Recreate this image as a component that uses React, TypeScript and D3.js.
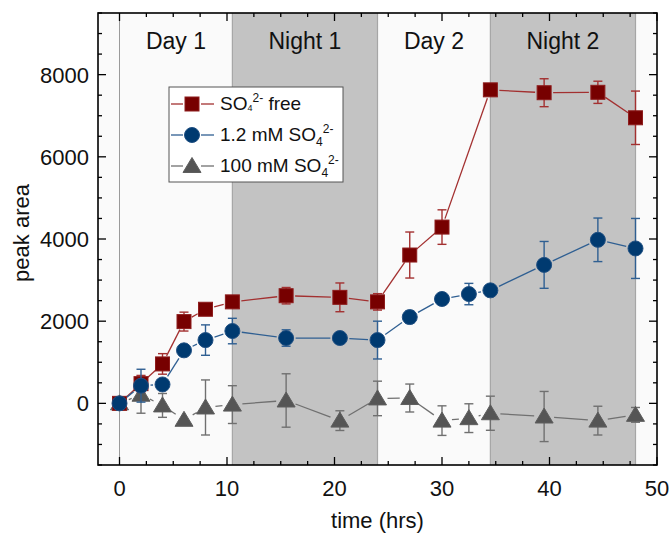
import React, { useRef, useEffect } from 'react';
import * as d3 from 'd3';

// time points (hrs)
const freeTime = [0, 2, 4, 6, 8, 10.5, 15.5, 20.5, 24, 27, 30, 34.5, 39.5, 44.5, 48];
const freeVal = [0, 480, 960, 1990, 2290, 2470, 2620, 2580, 2470, 3610, 4290, 7630, 7560, 7570, 6950];
const freeErr = [0, 200, 250, 230, 80, 80, 200, 350, 200, 560, 420, 0, 340, 270, 650];

const sulfTime = [0, 2, 4, 6, 8, 10.5, 15.5, 20.5, 24, 27, 30, 32.5, 34.5, 39.5, 44.5, 48];
const lowVal = [0, 430, 460, 1290, 1540, 1760, 1590, 1590, 1540, 2100, 2540, 2660, 2750, 3370, 3980, 3770];
const lowErr = [0, 400, 100, 100, 370, 310, 200, 80, 460, 150, 100, 260, 80, 570, 530, 730];
const highVal = [0, 210, -50, -400, -100, -30, 70, -420, 120, 130, -420, -360, -240, -320, -420, -280];
const highErr = [0, 450, 290, 0, 670, 460, 650, 240, 420, 340, 360, 350, 415, 610, 350, 180];

// light periods
const periods = [
  { label: 'Day 1', from: 0, to: 10.5, dark: false },
  { label: 'Night 1', from: 10.5, to: 24, dark: true },
  { label: 'Day 2', from: 24, to: 34.5, dark: false },
  { label: 'Night 2', from: 34.5, to: 48, dark: true },
];

const xTicks = [0, 10, 20, 30, 40, 50];
const yTicks = [0, 2000, 4000, 6000, 8000];

const App = () => {
  const svgRef = useRef(null);

  useEffect(() => {
    const width = 671;
    const height = 534;
    const margin = { top: 13, right: 14, bottom: 69, left: 98 };
    const font = '"Liberation Sans", Arial, sans-serif';

    const x = d3.scaleLinear().domain([-2, 50]).range([margin.left, width - margin.right]);
    const y = d3.scaleLinear().domain([-1500, 9500]).range([height - margin.bottom, margin.top]);

    const svg = d3.select(svgRef.current).attr('width', width).attr('height', height);
    svg.selectAll('*').remove();

    const x0 = margin.left, x1 = width - margin.right;
    const y0 = height - margin.bottom, y1 = margin.top;

    // plot background
    svg.append('rect')
      .attr('x', x0).attr('y', y1).attr('width', x1 - x0).attr('height', y0 - y1)
      .attr('fill', '#fafafa');

    // night bands
    periods.filter(p => p.dark).forEach(p => {
      svg.append('rect')
        .attr('x', x(p.from)).attr('y', y1)
        .attr('width', x(p.to) - x(p.from)).attr('height', y0 - y1)
        .attr('fill', '#c3c3c3');
      [p.from, p.to].forEach(v => {
        svg.append('line')
          .attr('x1', x(v)).attr('x2', x(v)).attr('y1', y1).attr('y2', y0)
          .attr('stroke', '#a6a6a6').attr('stroke-width', 1.2);
      });
    });
    svg.append('line')
      .attr('x1', x(0)).attr('x2', x(0)).attr('y1', y1).attr('y2', y0)
      .attr('stroke', '#9a9a9a').attr('stroke-width', 1);

    // period labels
    periods.forEach(p => {
      svg.append('text')
        .attr('x', (x(p.from) + x(p.to)) / 2).attr('y', 49)
        .attr('text-anchor', 'middle')
        .attr('font-family', font).attr('font-size', 23)
        .attr('fill', '#111')
        .text(p.label);
    });

    // ticks
    const tg = svg.append('g').attr('stroke', '#000').attr('stroke-width', 1.3);
    d3.range(0, 50.01, 2.5).forEach(v => {
      const len = v % 10 === 0 ? 8 : 4;
      tg.append('line').attr('x1', x(v)).attr('x2', x(v)).attr('y1', y0).attr('y2', y0 - len);
      tg.append('line').attr('x1', x(v)).attr('x2', x(v)).attr('y1', y1).attr('y2', y1 + len);
    });
    d3.range(-1500, 9500.1, 500).forEach(v => {
      const len = v % 2000 === 0 ? 8 : 4;
      tg.append('line').attr('x1', x0).attr('x2', x0 + len).attr('y1', y(v)).attr('y2', y(v));
      tg.append('line').attr('x1', x1).attr('x2', x1 - len).attr('y1', y(v)).attr('y2', y(v));
    });

    // frame
    svg.append('rect')
      .attr('x', x0).attr('y', y1).attr('width', x1 - x0).attr('height', y0 - y1)
      .attr('fill', 'none').attr('stroke', '#000').attr('stroke-width', 1.6);

    // tick labels
    xTicks.forEach(v => {
      svg.append('text')
        .attr('x', x(v)).attr('y', y0 + 31)
        .attr('text-anchor', 'middle')
        .attr('font-family', font).attr('font-size', 22).attr('fill', '#111')
        .text(v);
    });
    yTicks.forEach(v => {
      svg.append('text')
        .attr('x', x0 - 9).attr('y', y(v) + 8)
        .attr('text-anchor', 'end')
        .attr('font-family', font).attr('font-size', 22).attr('fill', '#111')
        .text(v);
    });

    // axis titles
    svg.append('text')
      .attr('x', (x0 + x1) / 2).attr('y', 528)
      .attr('text-anchor', 'middle')
      .attr('font-family', font).attr('font-size', 22).attr('fill', '#111')
      .text('time (hrs)');
    svg.append('text')
      .attr('transform', `translate(29,${(y0 + y1) / 2 - 6}) rotate(-90)`)
      .attr('text-anchor', 'middle')
      .attr('font-family', font).attr('font-size', 22).attr('fill', '#111')
      .text('peak area');

    const series = [
      { t: freeTime, v: freeVal, e: freeErr, shape: 'square', fill: '#770000', edge: '#8e1c1c', line: '#a33030', gap: 9 },
      { t: sulfTime, v: lowVal, e: lowErr, shape: 'circle', fill: '#003a70', edge: '#1f4f82', line: '#2f5f92', gap: 9.5 },
      { t: sulfTime, v: highVal, e: highErr, shape: 'triangle', fill: '#555555', edge: '#5e5e5e', line: '#707070', gap: 10 },
    ];

    const drawMarker = (g, shape, cx, cy, fill, edge) => {
      if (shape === 'square') {
        g.append('rect').attr('x', cx - 7).attr('y', cy - 7).attr('width', 14).attr('height', 14)
          .attr('fill', fill).attr('stroke', edge).attr('stroke-width', 1);
      } else if (shape === 'circle') {
        g.append('circle').attr('cx', cx).attr('cy', cy).attr('r', 7.5)
          .attr('fill', fill).attr('stroke', edge).attr('stroke-width', 1);
      } else {
        const w = 18, h = 15;
        g.append('path')
          .attr('d', `M${cx},${cy - h / 2 - 1}L${cx + w / 2},${cy + h / 2 - 1}L${cx - w / 2},${cy + h / 2 - 1}Z`)
          .attr('fill', fill).attr('stroke', edge).attr('stroke-width', 1);
      }
    };

    // gray first, then red, blue on top (blue covers red at early points)
    const order = [2, 0, 1];
    order.forEach(i => {
      const s = series[i];
      const g = svg.append('g');
      const pts = s.t.map((t, k) => [x(t), y(s.v[k])]);
      // connecting segments with gaps at markers
      for (let k = 0; k < pts.length - 1; k++) {
        const [ax, ay] = pts[k];
        const [bx, by] = pts[k + 1];
        const dx = bx - ax, dy = by - ay;
        const len = Math.hypot(dx, dy);
        if (len <= 2 * s.gap) continue;
        const ux = dx / len, uy = dy / len;
        g.append('line')
          .attr('x1', ax + ux * s.gap).attr('y1', ay + uy * s.gap)
          .attr('x2', bx - ux * s.gap).attr('y2', by - uy * s.gap)
          .attr('stroke', s.line).attr('stroke-width', 1.3);
      }
      // error bars
      s.t.forEach((t, k) => {
        if (!s.e[k]) return;
        const cx = x(t);
        const top = y(s.v[k] + s.e[k]);
        const bot = y(s.v[k] - s.e[k]);
        g.append('line').attr('x1', cx).attr('x2', cx).attr('y1', top).attr('y2', bot)
          .attr('stroke', s.line).attr('stroke-width', 1.4);
        [top, bot].forEach(yy => {
          g.append('line').attr('x1', cx - 4.5).attr('x2', cx + 4.5).attr('y1', yy).attr('y2', yy)
            .attr('stroke', s.line).attr('stroke-width', 1.4);
        });
      });
      pts.forEach(([cx, cy]) => drawMarker(g, s.shape, cx, cy, s.fill, s.edge));
    });

    // legend
    const lg = svg.append('g');
    lg.append('rect')
      .attr('x', 169).attr('y', 87).attr('width', 174).attr('height', 95)
      .attr('fill', '#fff').attr('stroke', '#555').attr('stroke-width', 1);
    const legendRows = [
      { s: series[0], y: 104 },
      { s: series[1], y: 135 },
      { s: series[2], y: 166 },
    ];
    legendRows.forEach(r => {
      lg.append('line').attr('x1', 171).attr('x2', 183).attr('y1', r.y).attr('y2', r.y)
        .attr('stroke', r.s.line).attr('stroke-width', 1.3);
      lg.append('line').attr('x1', 201).attr('x2', 214).attr('y1', r.y).attr('y2', r.y)
        .attr('stroke', r.s.line).attr('stroke-width', 1.3);
      drawMarker(lg, r.s.shape, 192, r.y, r.s.fill, r.s.edge);
    });
    const t1 = lg.append('text').attr('x', 220).attr('y', 110)
      .attr('font-family', font).attr('font-size', 19).attr('fill', '#111');
    t1.append('tspan').text('SO');
    t1.append('tspan').attr('font-size', 9).attr('dy', 1).text('4');
    t1.append('tspan').attr('font-size', 12).attr('dy', -9).text('2-');
    t1.append('tspan').attr('dy', 8).text(' free');

    const sulfLabel = (prefix, yy) => {
      const t = lg.append('text').attr('x', 220).attr('y', yy)
        .attr('font-family', font).attr('font-size', 19).attr('fill', '#111');
      t.append('tspan').text(prefix + 'SO');
      t.append('tspan').attr('font-size', 12).attr('dy', 5).text('4');
      t.append('tspan').attr('font-size', 12).attr('dy', -13).text('2-');
    };
    sulfLabel('1.2 mM ', 141);
    sulfLabel('100 mM ', 172);
  }, []);

  return (
    <svg ref={svgRef} style={{ position: 'absolute', left: 0, top: 0, background: '#fff' }}></svg>
  );
};

export default App;
